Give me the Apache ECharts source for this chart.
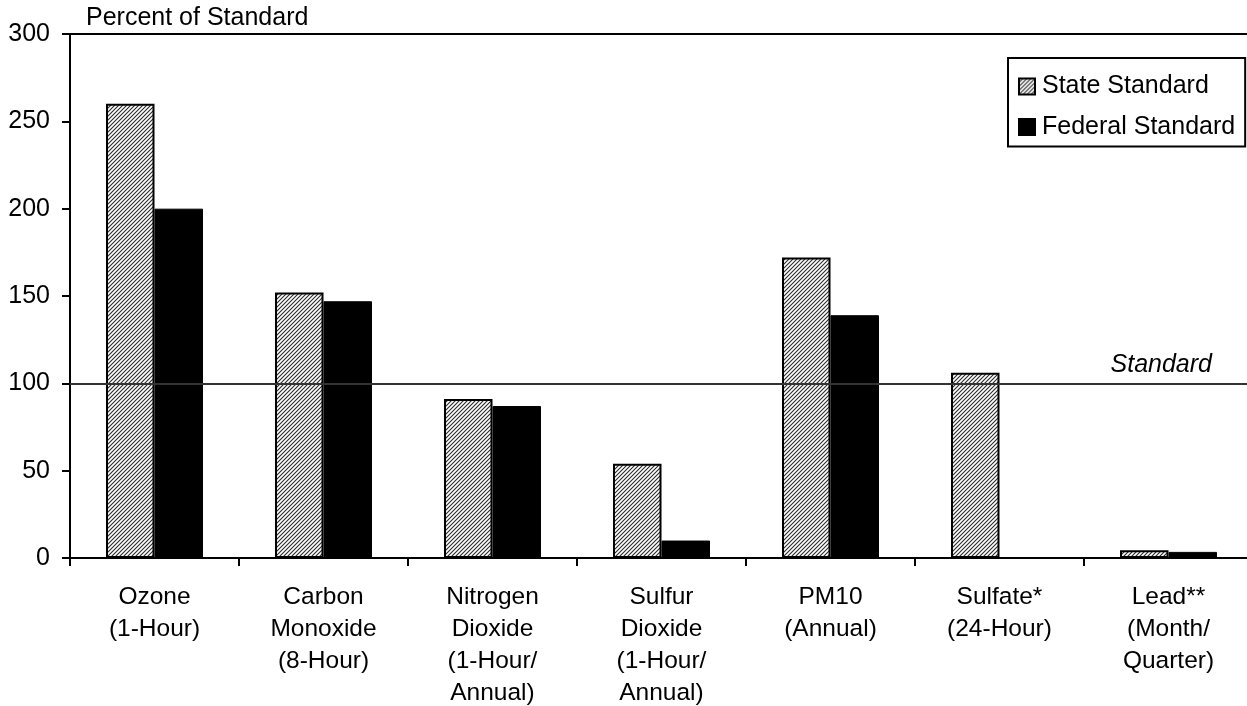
<!DOCTYPE html>
<html>
<head>
<meta charset="utf-8">
<script src="https://cdn.jsdelivr.net/npm/echarts@6/dist/echarts.min.js"></script>
<style>
html,body{margin:0;padding:0;background:#fff;}
#c{width:1247px;height:706px;}
</style>
</head>
<body>
<div id="c"></div>
<script>
const categories = [
  'Ozone\n(1-Hour)',
  'Carbon\nMonoxide\n(8-Hour)',
  'Nitrogen\nDioxide\n(1-Hour/\nAnnual)',
  'Sulfur\nDioxide\n(1-Hour/\nAnnual)',
  'PM10\n(Annual)',
  'Sulfate*\n(24-Hour)',
  'Lead**\n(Month/\nQuarter)'
];
const stateValues = [260, 152, 91, 54, 172, 106, 4.5];
const federalValues = [200, 147, 87, 10, 139, null, 3.5];
const yTicks = [0, 50, 100, 150, 200, 250, 300];
const standardLevel = 100;

// hatch pattern
const pc = document.createElement('canvas');
pc.width = 4; pc.height = 4;
const g = pc.getContext('2d');
g.fillStyle = '#ffffff';
g.fillRect(0, 0, 4, 4);
g.strokeStyle = '#2a2a2a';
g.lineWidth = 1.1;
g.beginPath();
g.moveTo(0, 4); g.lineTo(4, 0);
g.moveTo(-1, 1); g.lineTo(1, -1);
g.moveTo(3, 5); g.lineTo(5, 3);
g.stroke();

const FONT = '"Liberation Sans", Arial, sans-serif';
const chart = echarts.init(document.getElementById('c'), null, {renderer: 'canvas'});
chart.setOption({
  animation: false,
  backgroundColor: '#ffffff',
  textStyle: {fontFamily: FONT, color: '#000'},
  title: {
    text: 'Percent of Standard',
    left: 81, top: 1,
    textStyle: {fontFamily: FONT, fontSize: 25, fontWeight: 'normal', color: '#000'}
  },
  legend: {
    orient: 'vertical',
    left: 1008, top: 58,
    padding: [16, 10, 7, 10],
    itemWidth: 16, itemHeight: 16,
    itemGap: 15.5,
    icon: 'rect',
    backgroundColor: '#fff',
    borderColor: '#000', borderWidth: 2, borderRadius: 0,
    textStyle: {fontFamily: FONT, fontSize: 25, color: '#000', padding: [0, 0, 0, 2]},
    data: ['State Standard', 'Federal Standard']
  },
  grid: {
    left: 70, top: 34, bottom: 148, right: -6,
    containLabel: false,
    outerBoundsMode: 'none',
    show: true, borderColor: '#000', borderWidth: 2, backgroundColor: 'transparent'
  },
  xAxis: {
    type: 'category',
    data: categories,
    axisLine: {lineStyle: {color: '#000', width: 2}},
    axisTick: {show: true, length: 8, lineStyle: {color: '#000', width: 2}},
    axisLabel: {
      color: '#000', fontFamily: FONT, fontSize: 24.5, lineHeight: 32,
      margin: 23, interval: 0, verticalAlign: 'top'
    },
    splitLine: {show: false}
  },
  yAxis: {
    type: 'value',
    min: yTicks[0], max: yTicks[yTicks.length - 1], interval: 50,
    axisLine: {show: true, lineStyle: {color: '#000', width: 2}},
    axisTick: {show: true, length: 8, lineStyle: {color: '#000', width: 2}},
    axisLabel: {color: '#000', fontFamily: FONT, fontSize: 25, margin: 20},
    splitLine: {show: false}
  },
  series: [
    {
      name: 'State Standard',
      type: 'bar',
      data: stateValues,
      barGap: '0%',
      barCategoryGap: '42.6%',
      itemStyle: {
        color: {image: pc, repeat: 'repeat'},
        borderColor: '#000', borderWidth: 2
      }
    },
    {
      name: 'Federal Standard',
      type: 'bar',
      data: federalValues,
      barGap: '0%',
      barCategoryGap: '42.6%',
      itemStyle: {color: '#000', borderColor: '#000', borderWidth: 1},
      markLine: {
        silent: true,
        symbol: ['none', 'none'],
        z: 10,
        lineStyle: {color: '#333', width: 2, type: 'solid'},
        label: {
          show: true,
          position: 'insideEndTop',
          formatter: 'Standard',
          fontFamily: FONT, fontSize: 25, fontStyle: 'italic', color: '#000',
          distance: [41, 6]
        },
        data: [{yAxis: standardLevel}]
      }
    }
  ]
});
</script>
</body>
</html>
